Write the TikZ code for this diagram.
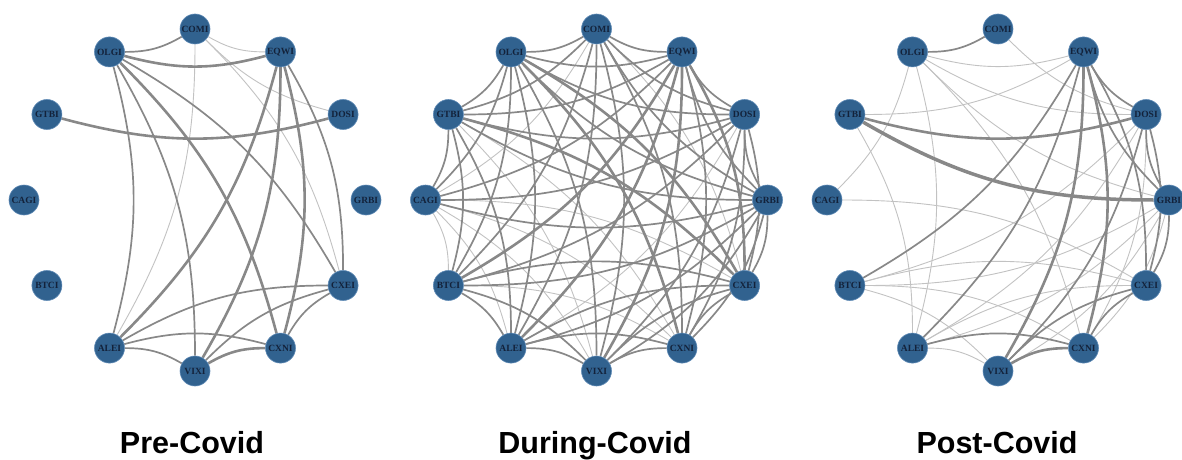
\documentclass[tikz,border=0pt]{standalone}
\usepackage{fontspec}
\setmainfont{Liberation Serif}
\newfontfamily\titlefont{Liberation Sans}
\usetikzlibrary{backgrounds}

\definecolor{nodeblue}{HTML}{31628F}
\definecolor{noderim}{HTML}{5F8AB5}
\definecolor{labelink}{HTML}{13223A}
\definecolor{edgegray}{HTML}{888888}
\definecolor{edgelight}{HTML}{C2C2C2}

\tikzset{
  vert/.style={circle, fill=nodeblue, draw=noderim, line width=0.6pt,
    minimum size=30pt, inner sep=0pt, text=labelink,
    font=\bfseries\fontsize{9.5}{9.5}\selectfont},
  link/.style={bend left=15},
  wlight/.style={draw=edgelight, line width=0.9pt},
  wmed/.style={draw=edgegray, line width=1.7pt},
  wthick/.style={draw=edgegray, line width=2.6pt},
  wheavy/.style={draw=edgegray, line width=3.5pt},
  paneltitle/.style={font=\titlefont\bfseries\fontsize{30.5}{31}\selectfont,
    inner sep=0pt, anchor=base}
}

% twelve vertices on a circle, counter-clockwise from the east
\newcommand\placeverts[3]{%
  \foreach \n/\a in {GRBI/0, DOSI/30, EQWI/60, COMI/90, OLGI/120, GTBI/150,
                     CAGI/180, BTCI/210, ALEI/240, VIXI/270, CXNI/300, CXEI/330}{
    \node[vert] (#1-\n) at ({#2+171*cos(\a)},{#3+171*sin(\a)}) {\n};
  }%
}

\begin{document}
\begin{tikzpicture}[x=1pt, y=1pt]
\useasboundingbox (0,0) rectangle (1182,459);

\placeverts{a}{195}{259}
\placeverts{b}{596.5}{259}
\placeverts{c}{998}{259}

\begin{scope}[on background layer]
% Pre-Covid
\foreach \u/\v/\w in {
  EQWI/COMI/wlight, COMI/ALEI/wlight, DOSI/COMI/wlight, COMI/CXEI/wlight,
  COMI/OLGI/wmed, OLGI/ALEI/wmed, OLGI/VIXI/wmed, OLGI/CXEI/wmed,
  EQWI/CXEI/wmed, ALEI/CXEI/wmed, ALEI/CXNI/wmed, ALEI/VIXI/wmed,
  VIXI/CXEI/wmed, CXNI/CXEI/wmed,
  DOSI/GTBI/wthick, EQWI/OLGI/wthick, OLGI/CXNI/wthick, EQWI/ALEI/wthick,
  EQWI/VIXI/wthick, EQWI/CXNI/wthick, VIXI/CXNI/wthick}
  \draw[\w] (a-\u) to[link] (a-\v);

% During-Covid
\foreach \u/\v/\w in {
  DOSI/ALEI/wlight, COMI/CAGI/wlight, COMI/CXEI/wlight, GTBI/VIXI/wlight,
  GTBI/CXNI/wlight, CAGI/BTCI/wlight, CAGI/ALEI/wlight, CAGI/VIXI/wlight,
  CAGI/CXNI/wlight, CAGI/CXEI/wlight, BTCI/CXNI/wlight,
  GRBI/DOSI/wmed, GRBI/EQWI/wmed, GRBI/COMI/wmed, GRBI/OLGI/wmed,
  GRBI/GTBI/wmed, GRBI/CAGI/wmed, GRBI/BTCI/wmed, GRBI/ALEI/wmed,
  GRBI/VIXI/wmed, GRBI/CXNI/wmed, GRBI/CXEI/wmed,
  DOSI/EQWI/wmed, DOSI/COMI/wmed, DOSI/OLGI/wmed, DOSI/GTBI/wmed,
  DOSI/CAGI/wmed, DOSI/BTCI/wmed, DOSI/VIXI/wmed, DOSI/CXNI/wmed, DOSI/CXEI/wmed,
  EQWI/COMI/wmed, EQWI/OLGI/wmed, EQWI/GTBI/wmed, EQWI/CAGI/wmed, EQWI/CXNI/wmed,
  COMI/OLGI/wmed, COMI/GTBI/wmed, COMI/BTCI/wmed, COMI/ALEI/wmed,
  COMI/VIXI/wmed, COMI/CXNI/wmed,
  OLGI/GTBI/wmed, OLGI/CAGI/wmed, OLGI/BTCI/wmed, OLGI/ALEI/wmed, OLGI/VIXI/wmed,
  GTBI/CAGI/wmed, GTBI/BTCI/wmed, GTBI/ALEI/wmed,
  BTCI/ALEI/wmed, BTCI/VIXI/wmed, BTCI/CXEI/wmed,
  ALEI/VIXI/wmed, ALEI/CXNI/wmed, ALEI/CXEI/wmed,
  VIXI/CXNI/wmed, VIXI/CXEI/wmed, CXNI/CXEI/wmed,
  EQWI/BTCI/wthick, EQWI/ALEI/wthick, EQWI/VIXI/wthick, EQWI/CXEI/wthick,
  OLGI/CXNI/wthick, OLGI/CXEI/wthick, GTBI/CXEI/wthick}
  \draw[\w] (b-\u) to[link] (b-\v);

% Post-Covid
\foreach \u/\v/\w in {
  DOSI/COMI/wlight, EQWI/OLGI/wlight, DOSI/OLGI/wlight, GRBI/OLGI/wlight,
  OLGI/CXNI/wlight, OLGI/ALEI/wlight, OLGI/CAGI/wlight, EQWI/GTBI/wlight,
  GTBI/ALEI/wlight, CAGI/CXEI/wlight, DOSI/CXNI/wlight, DOSI/ALEI/wlight,
  DOSI/BTCI/wlight, GRBI/CXNI/wlight, GRBI/BTCI/wlight, GRBI/ALEI/wlight,
  BTCI/CXEI/wlight, ALEI/CXEI/wlight, BTCI/CXNI/wlight, ALEI/VIXI/wlight,
  BTCI/VIXI/wlight, GRBI/VIXI/wlight,
  COMI/OLGI/wmed, DOSI/EQWI/wmed, GRBI/EQWI/wmed, EQWI/CXEI/wmed,
  EQWI/ALEI/wmed, EQWI/BTCI/wmed, GRBI/DOSI/wmed, DOSI/CXEI/wmed,
  DOSI/VIXI/wmed, GRBI/CXEI/wmed, VIXI/CXEI/wmed, CXNI/CXEI/wmed,
  ALEI/CXNI/wmed,
  DOSI/GTBI/wthick, EQWI/CXNI/wthick, EQWI/VIXI/wthick, VIXI/CXNI/wthick,
  GRBI/GTBI/wheavy}
  \draw[\w] (c-\u) to[link] (c-\v);
\end{scope}

\node[paneltitle] (t1) at (192,6) {Pre-Covid};
\node[paneltitle] (t2) at (595,6) {During-Covid};
\node[paneltitle] (t3) at (997,6) {Post-Covid};
\end{tikzpicture}
\end{document}
